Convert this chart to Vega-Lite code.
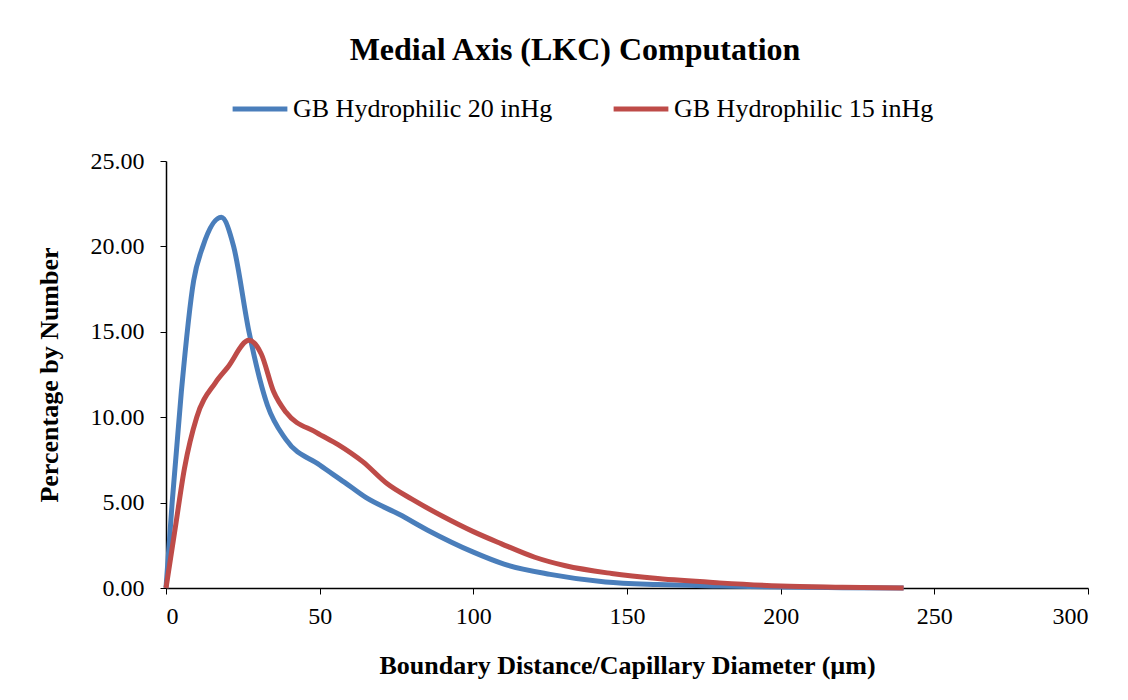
{
  "$schema": "https://vega.github.io/schema/vega-lite/v6.json",
  "autosize": {"type": "none"},
  "padding": {"left": 166, "top": 161, "right": 40, "bottom": 112},
  "width": 922,
  "height": 427,
  "background": "white",
  "title": {
    "text": "Medial Axis (LKC) Computation",
    "font": "Liberation Serif",
    "fontSize": 32,
    "fontWeight": "bold",
    "color": "black",
    "anchor": "middle",
    "dx": -52,
    "offset": 12
  },
  "data": {
    "values": [
      {"series": "GB Hydrophilic 20 inHg", "x": 0, "y": 0},
      {"series": "GB Hydrophilic 20 inHg", "x": 2, "y": 5},
      {"series": "GB Hydrophilic 20 inHg", "x": 5, "y": 11.5},
      {"series": "GB Hydrophilic 20 inHg", "x": 9, "y": 18.0},
      {"series": "GB Hydrophilic 20 inHg", "x": 12, "y": 20.0},
      {"series": "GB Hydrophilic 20 inHg", "x": 18, "y": 21.7},
      {"series": "GB Hydrophilic 20 inHg", "x": 22, "y": 20.0},
      {"series": "GB Hydrophilic 20 inHg", "x": 27, "y": 15.0},
      {"series": "GB Hydrophilic 20 inHg", "x": 33, "y": 10.7},
      {"series": "GB Hydrophilic 20 inHg", "x": 39, "y": 8.7},
      {"series": "GB Hydrophilic 20 inHg", "x": 50, "y": 7.2},
      {"series": "GB Hydrophilic 20 inHg", "x": 58, "y": 6.2},
      {"series": "GB Hydrophilic 20 inHg", "x": 65, "y": 5.3},
      {"series": "GB Hydrophilic 20 inHg", "x": 76, "y": 4.3},
      {"series": "GB Hydrophilic 20 inHg", "x": 85, "y": 3.4},
      {"series": "GB Hydrophilic 20 inHg", "x": 100, "y": 2.1},
      {"series": "GB Hydrophilic 20 inHg", "x": 110, "y": 1.4},
      {"series": "GB Hydrophilic 20 inHg", "x": 125, "y": 0.8},
      {"series": "GB Hydrophilic 20 inHg", "x": 143, "y": 0.35},
      {"series": "GB Hydrophilic 20 inHg", "x": 160, "y": 0.2},
      {"series": "GB Hydrophilic 20 inHg", "x": 180, "y": 0.12},
      {"series": "GB Hydrophilic 20 inHg", "x": 200, "y": 0.06},
      {"series": "GB Hydrophilic 20 inHg", "x": 220, "y": 0.02},
      {"series": "GB Hydrophilic 20 inHg", "x": 240, "y": 0.0},
      {"series": "GB Hydrophilic 15 inHg", "x": 0, "y": 0},
      {"series": "GB Hydrophilic 15 inHg", "x": 3, "y": 3.5},
      {"series": "GB Hydrophilic 15 inHg", "x": 6, "y": 7},
      {"series": "GB Hydrophilic 15 inHg", "x": 10, "y": 10.0},
      {"series": "GB Hydrophilic 15 inHg", "x": 16, "y": 12},
      {"series": "GB Hydrophilic 15 inHg", "x": 20, "y": 12.9},
      {"series": "GB Hydrophilic 15 inHg", "x": 27, "y": 14.5},
      {"series": "GB Hydrophilic 15 inHg", "x": 31, "y": 13.7},
      {"series": "GB Hydrophilic 15 inHg", "x": 35, "y": 11.5},
      {"series": "GB Hydrophilic 15 inHg", "x": 39, "y": 10.3},
      {"series": "GB Hydrophilic 15 inHg", "x": 49, "y": 9.1},
      {"series": "GB Hydrophilic 15 inHg", "x": 56, "y": 8.4},
      {"series": "GB Hydrophilic 15 inHg", "x": 64, "y": 7.4},
      {"series": "GB Hydrophilic 15 inHg", "x": 72, "y": 6.1},
      {"series": "GB Hydrophilic 15 inHg", "x": 80, "y": 5.2},
      {"series": "GB Hydrophilic 15 inHg", "x": 90, "y": 4.2},
      {"series": "GB Hydrophilic 15 inHg", "x": 100, "y": 3.3},
      {"series": "GB Hydrophilic 15 inHg", "x": 109, "y": 2.6},
      {"series": "GB Hydrophilic 15 inHg", "x": 120, "y": 1.8},
      {"series": "GB Hydrophilic 15 inHg", "x": 130, "y": 1.3},
      {"series": "GB Hydrophilic 15 inHg", "x": 145, "y": 0.85},
      {"series": "GB Hydrophilic 15 inHg", "x": 160, "y": 0.55},
      {"series": "GB Hydrophilic 15 inHg", "x": 180, "y": 0.3},
      {"series": "GB Hydrophilic 15 inHg", "x": 200, "y": 0.12},
      {"series": "GB Hydrophilic 15 inHg", "x": 220, "y": 0.05},
      {"series": "GB Hydrophilic 15 inHg", "x": 240, "y": 0.0}
    ]
  },
  "mark": {"type": "line", "interpolate": "monotone", "strokeWidth": 5},
  "encoding": {
    "x": {
      "field": "x",
      "type": "quantitative",
      "scale": {"domain": [0, 300], "nice": false},
      "axis": {
        "title": "Boundary Distance/Capillary Diameter (µm)",
        "values": [0, 50, 100, 150, 200, 250, 300],
        "grid": false,
        "labelPadding": 10,
        "titlePadding": 24
      }
    },
    "y": {
      "field": "y",
      "type": "quantitative",
      "scale": {"domain": [0, 25], "nice": false},
      "axis": {
        "title": "Percentage by Number",
        "values": [0, 5, 10, 15, 20, 25],
        "format": ".2f",
        "grid": false,
        "labelPadding": 16,
        "titlePadding": 28
      }
    },
    "color": {
      "field": "series",
      "type": "nominal",
      "scale": {
        "domain": ["GB Hydrophilic 20 inHg", "GB Hydrophilic 15 inHg"],
        "range": ["#4A7EBB", "#BE4B48"]
      },
      "legend": {
        "title": null,
        "orient": "none",
        "direction": "horizontal",
        "legendX": 64,
        "legendY": -82,
        "symbolType": "stroke",
        "symbolSize": 3000,
        "symbolStrokeWidth": 5,
        "labelFont": "Liberation Serif",
        "labelFontSize": 26,
        "labelColor": "black",
        "labelOffset": 3,
        "columnPadding": 50,
        "labelLimit": 400
      }
    }
  },
  "config": {
    "view": {"stroke": null},
    "axis": {
      "domainColor": "black",
      "domainWidth": 1.5,
      "tickColor": "black",
      "tickSize": 6,
      "labelFont": "Liberation Serif",
      "labelFontSize": 24,
      "labelColor": "black",
      "titleFont": "Liberation Serif",
      "titleFontSize": 26,
      "titleFontWeight": "bold",
      "titleColor": "black"
    }
  }
}
